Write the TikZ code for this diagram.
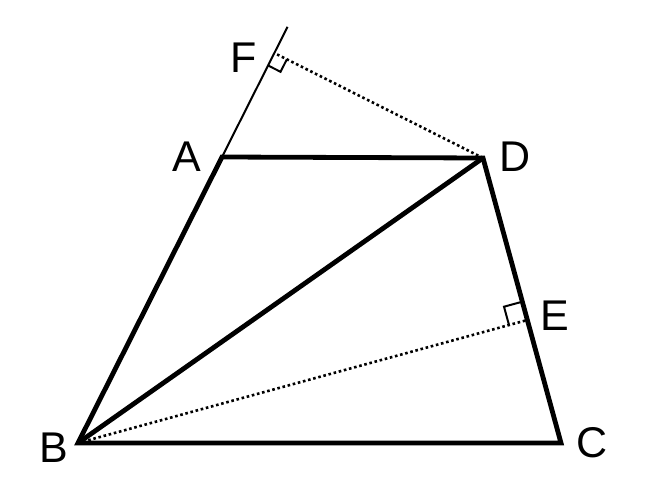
\documentclass[tikz,border=0pt]{standalone}
\usepackage{fontspec}
\setmainfont{Liberation Sans}
\usetikzlibrary{calc}
\begin{document}
\begin{tikzpicture}[x=1pt,y=-1pt,
  thickline/.style={line width=4.8pt,line join=miter},
  thinline/.style={line width=2pt},
  dotline/.style={line width=2.6pt,dash pattern=on 2.6pt off 2.7pt},
  rightmark/.style={line width=2pt},
  lbl/.style={font=\fontsize{43}{43}\selectfont, inner sep=0pt}]
\useasboundingbox (0,0) rectangle (660,500);
\coordinate (A) at (222,157);
\coordinate (D) at (483,158);
\coordinate (B) at (78,443);
\coordinate (C) at (561,443);
\coordinate (E) at ($(D)!(B)!(C)$);
\coordinate (F) at ($(B)!(D)!(A)$);
\coordinate (T) at ($(B)!1.455!(A)$);
% right angle marks
\coordinate (e1) at ($(E)!19pt!(B)$);
\coordinate (e2) at ($(E)!19pt!(D)$);
\coordinate (e3) at ($(e1)+(e2)-(E)$);
\coordinate (f1) at ($(F)!14pt!(D)$);
\coordinate (f2) at ($(F)!14pt!(B)$);
\coordinate (f3) at ($(f1)+(f2)-(F)$);
% lines
\draw[thinline] (A) -- (T);
\draw[dotline] (D) -- (F);
\draw[dotline] (B) -- (E);
\draw[rightmark] (e1) -- (e3) -- (e2);
\draw[rightmark] (f1) -- (f3) -- (f2);
\draw[thickline] (A) -- (D) -- (C) -- (B) -- cycle;
\draw[thickline] (B) -- (D);
% labels
\node[lbl] (lA) at (187,157) {A};
\node[lbl] (lB) at (54,448) {B};
\node[lbl] (lC) at (592,443) {C};
\node[lbl] (lD) at (515,157) {D};
\node[lbl] (lE) at (555,316) {E};
\node[lbl] (lF) at (244,58) {F};
\end{tikzpicture}
\end{document}
